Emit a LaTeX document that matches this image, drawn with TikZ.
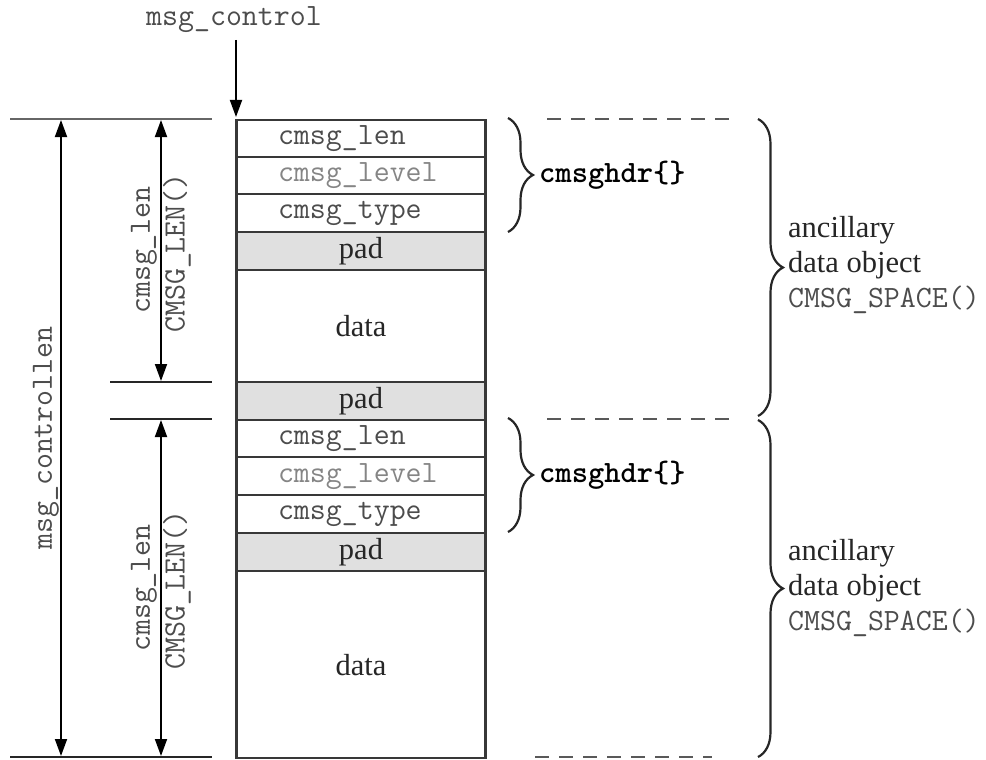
\documentclass[tikz,border=0pt]{standalone}
\usepackage{fontspec}
\setmainfont{Liberation Serif}
\usetikzlibrary{arrows.meta,decorations.pathreplacing}
\definecolor{txtgray}{gray}{0.30}
\definecolor{lvlgray}{gray}{0.52}
\definecolor{padfill}{gray}{0.88}
\definecolor{linegray}{gray}{0.22}
\begin{document}
\begin{tikzpicture}[x=1pt,y=-1pt,
  mono/.style={font=\fontsize{31}{36}\selectfont\ttfamily},
  serif/.style={font=\fontsize{30.5}{35}\selectfont},
  cellbase/.style={draw=linegray, line width=2.3pt, minimum width=249pt, inner sep=0pt, anchor=north},
  field/.style={cellbase, mono, text=txtgray, text width=166pt, align=left},
  padcell/.style={cellbase, serif, fill=padfill, text=black!85, minimum height=38pt},
  datacell/.style={cellbase, serif, text=black!85},
  dimarrow/.style={line width=1.8pt, {Triangle[length=17pt,width=12pt]}-{Triangle[length=17pt,width=12pt]}},
  downarrow/.style={line width=1.8pt, -{Triangle[length=17pt,width=12pt]}},
  extline/.style={line width=2.4pt, draw=black!85},
  thinext/.style={line width=1.2pt, draw=black!60},
  dashline/.style={line width=2.2pt, draw=black!65, dash pattern=on 14pt off 10pt},
  bracestyle/.style={line width=2.2pt, draw=black!85, decorate, decoration={brace, amplitude=#1}},
  rot/.style={mono, text=txtgray, rotate=90, inner sep=0pt},
  hdr/.style={font=\fontsize{31}{36}\selectfont\ttfamily\bfseries, anchor=west, inner sep=0pt},
  anc/.style={serif, align=left, anchor=west, inner sep=0pt, text=black!85}
]
\useasboundingbox (0,0) rectangle (986,760);

% first ancillary object
\node[field, minimum height=37pt] (r1) at (361,119) {cmsg\_len};
\node[field, minimum height=37pt, text=lvlgray] (r2) at (361,156) {cmsg\_level};
\node[field, minimum height=38pt] (r3) at (361,193) {cmsg\_type};
\node[padcell] (r4) at (361,231) {pad};
\node[datacell, minimum height=112pt] (r5) at (361,269) {data};
\node[padcell] (r6) at (361,381) {pad};
% second ancillary object
\node[field, minimum height=37pt] (s1) at (361,419) {cmsg\_len};
\node[field, minimum height=38pt, text=lvlgray] (s2) at (361,456) {cmsg\_level};
\node[field, minimum height=38pt] (s3) at (361,494) {cmsg\_type};
\node[padcell] (s4) at (361,532) {pad};
\node[datacell, minimum height=187pt] (s5) at (361,570) {data};

% msg_control pointer
\node[mono, text=txtgray, inner sep=0pt] (mc) at (234,20) {msg\_control};
\coordinate (mcstart) at (236,40);
\coordinate (mcend) at (236,117);
\draw[downarrow] (mcstart) -- (mcend);

% extension lines
\coordinate (e1a) at (10,119); \coordinate (e1b) at (212,119);
\coordinate (e2a) at (110,382); \coordinate (e2b) at (212,382);
\coordinate (e3a) at (110,419); \coordinate (e3b) at (212,419);
\coordinate (e4a) at (10,757); \coordinate (e4b) at (212,757);
\draw[thinext] (e1a) -- (e1b);
\draw[extline] (e2a) -- (e2b);
\draw[extline] (e3a) -- (e3b);
\draw[extline] (e4a) -- (e4b);

% dimension arrows
\coordinate (ct) at (61,120); \coordinate (cb) at (61,756);
\coordinate (a1t) at (161,120); \coordinate (a1b) at (161,381);
\coordinate (a2t) at (161,420); \coordinate (a2b) at (161,756);
\draw[dimarrow] (ct) -- (cb);
\draw[dimarrow] (a1t) -- (a1b);
\draw[dimarrow] (a2t) -- (a2b);

\node[rot] (mcl) at (46,438) {msg\_controllen};
\node[rot] (cl1) at (144,250) {cmsg\_len};
\node[rot] (cL1) at (177,253) {CMSG\_LEN()};
\node[rot] (cl2) at (144,588) {cmsg\_len};
\node[rot] (cL2) at (177,590) {CMSG\_LEN()};

% small braces
\coordinate (b1t) at (508,118); \coordinate (b1b) at (508,232);
\coordinate (b2t) at (508,418); \coordinate (b2b) at (508,532);
\draw[bracestyle=25pt] (b1t) -- (b1b);
\draw[bracestyle=25pt] (b2t) -- (b2b);
\node[hdr] (h1) at (539,175) {cmsghdr\{\}};
\node[hdr] (h2) at (539,475) {cmsghdr\{\}};

% dashed lines
\coordinate (d1a) at (547,119); \coordinate (d1b) at (737,119);
\coordinate (d2a) at (547,419); \coordinate (d2b) at (737,419);
\coordinate (d3a) at (535,757); \coordinate (d3b) at (712,757);
\draw[dashline] (d1a) -- (d1b);
\draw[dashline] (d2a) -- (d2b);
\draw[dashline] (d3a) -- (d3b);

% big braces
\coordinate (B1t) at (758,119); \coordinate (B1b) at (758,416);
\coordinate (B2t) at (758,420); \coordinate (B2b) at (758,757);
\draw[bracestyle=25pt] (B1t) -- (B1b);
\draw[bracestyle=25pt] (B2t) -- (B2b);
\node[anc] (o1) at (788,265) {ancillary\\data object\\{\fontsize{31}{35}\selectfont\ttfamily\color{txtgray}CMSG\_SPACE()}};
\node[anc] (o2) at (788,588) {ancillary\\data object\\{\fontsize{31}{35}\selectfont\ttfamily\color{txtgray}CMSG\_SPACE()}};
\end{tikzpicture}
\end{document}
